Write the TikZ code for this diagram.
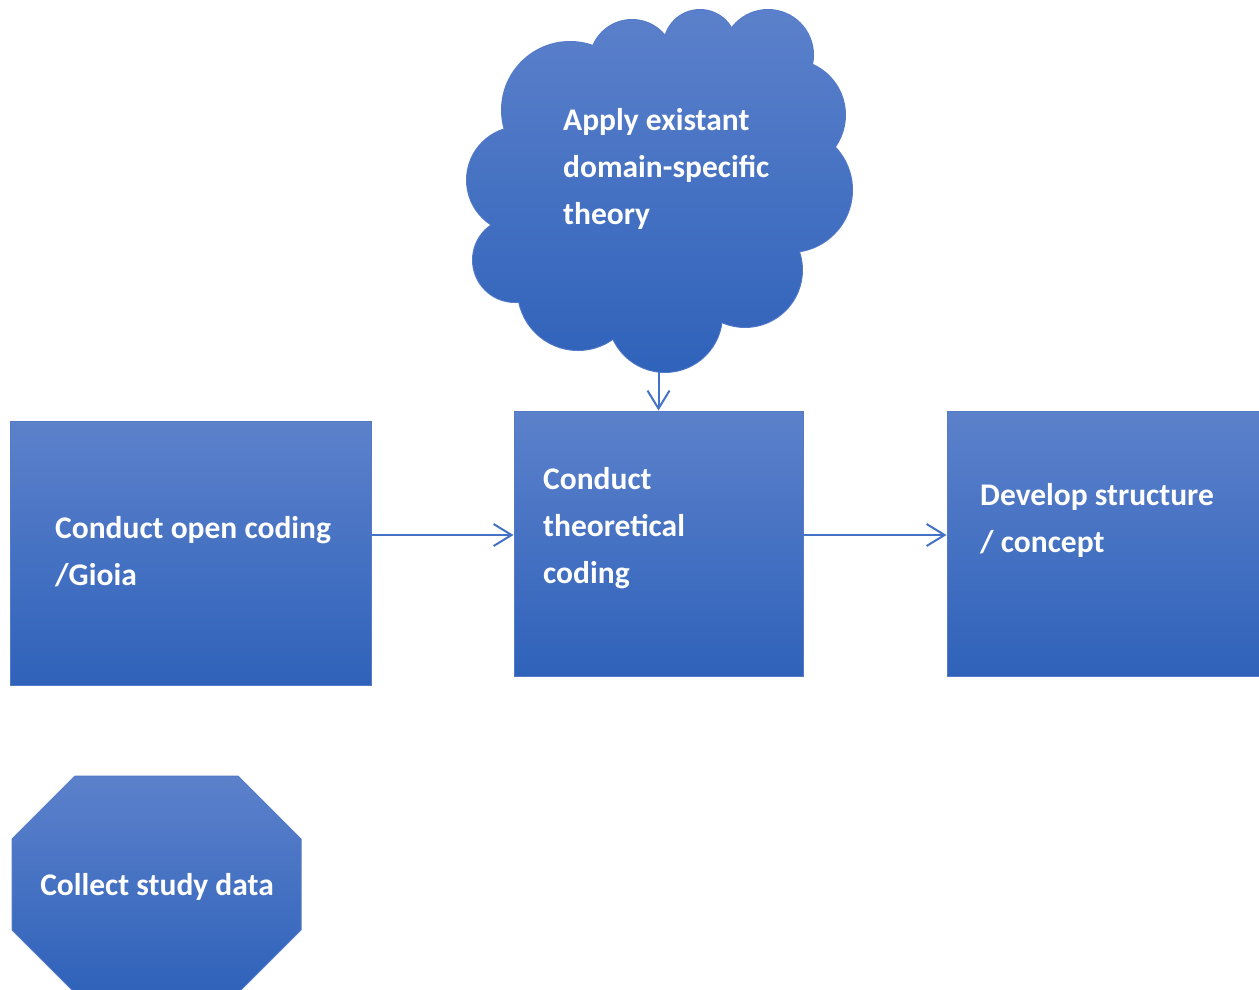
\documentclass[tikz,border=0pt]{standalone}
\usepackage{fontspec}
\setmainfont{Carlito}
\usetikzlibrary{arrows.meta}
\definecolor{boxtop}{RGB}{92,129,203}
\definecolor{boxbot}{RGB}{47,98,186}
\definecolor{edgec}{RGB}{84,122,200}
\definecolor{arrowc}{RGB}{68,114,196}
\begin{document}
\begin{tikzpicture}[x=1pt,y=-1pt,
  box/.style={draw=edgec, line width=1pt, top color=boxtop, bottom color=boxbot, rectangle, inner sep=0pt},
  lbl/.style={text=white, font=\bfseries\fontsize{31.5}{47}\selectfont, align=left, inner sep=0pt, anchor=base west},
  flow/.style={draw=arrowc, line width=2pt, -{Straight Barb[length=18pt,width=22pt,line width=2pt]}}]
\useasboundingbox (0,0) rectangle (1259,989);

% boxes
\node[box, minimum width=361pt, minimum height=264pt] (open) at (190.5,553) {};
\node[box, minimum width=289pt, minimum height=265pt] (mid) at (658.5,543.5) {};
\node[box, minimum width=312pt, minimum height=265pt] (dev) at (1103,543.5) {};

% cloud
\begin{scope}
  \foreach \cx/\cy/\r in {570/110/68, 632/62/42, 700/46/36, 768/55/45, 790/115/55, 790/190/62, 745/270/57, 665/315/57, 578/290/60, 515/260/42, 520/180/53}
    \draw[edgec, line width=2pt] (\cx,\cy) circle (\r pt);
\end{scope}
\begin{scope}
  \clip (570,110) circle (68pt) (632,62) circle (42pt) (700,46) circle (36pt)
        (768,55) circle (45pt) (790,115) circle (55pt) (790,190) circle (62pt)
        (745,270) circle (57pt) (665,315) circle (57pt) (578,290) circle (60pt)
        (515,260) circle (42pt) (520,180) circle (53pt) (660,190) circle (130pt)
        (728,85) circle (34pt);
  \shade[top color=boxtop, bottom color=boxbot] (460,5) rectangle (860,375);
\end{scope}
\node[minimum width=385pt, minimum height=362pt, inner sep=0pt] (cloud) at (658.5,191) {};

% octagon
\shade[top color=boxtop, bottom color=boxbot, draw=edgec, line width=1pt]
  (75,776) -- (238,776) -- (301,839) -- (301,930) -- (238,993) -- (75,993) -- (12,930) -- (12,839) -- cycle;

% texts (anchor = baseline of the last line)
\node[lbl] (topen) at (55,585) {Conduct open coding\\/Gioia};
\node[lbl] (tmid) at (543,583) {Conduct\\theoretical\\coding};
\node[lbl] (tdev) at (980,552) {Develop structure\\/ concept};
\node[lbl] (tcloud) at (563,224) {Apply existant\\domain-specific\\theory};
\node[lbl, anchor=base] (collect) at (157,895) {Collect study data};

% connectors
\draw[flow] (cloud.south) -- (mid.north);
\draw[flow] ([yshift=18pt]open.east) -- ([yshift=8.5pt]mid.west);
\draw[flow] ([yshift=8.5pt]mid.east) -- ([yshift=8.5pt]dev.west);
\end{tikzpicture}
\end{document}
